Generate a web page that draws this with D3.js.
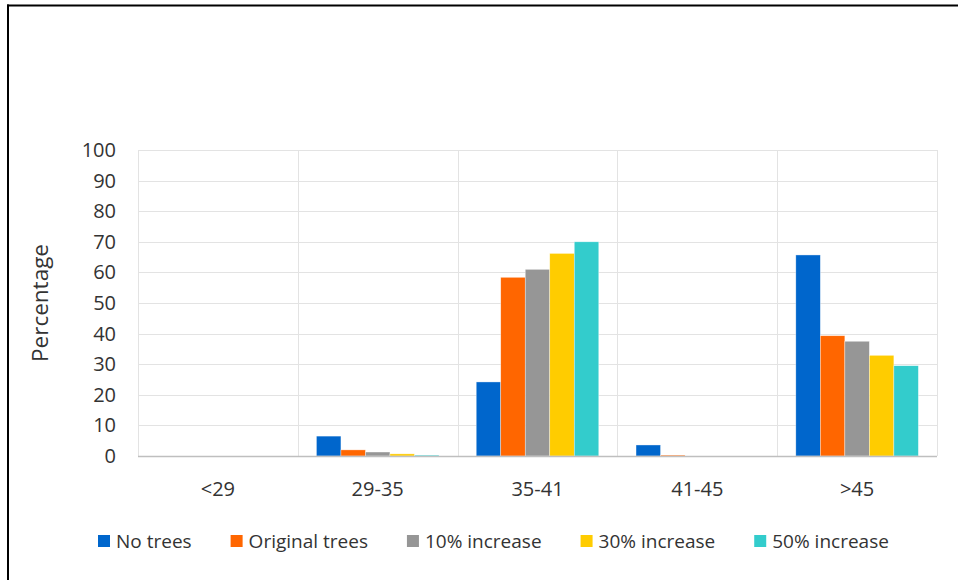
<!DOCTYPE html>
<html>
<head>
<meta charset="utf-8">
<script src="https://cdn.jsdelivr.net/npm/d3@7"></script>
<style>
  body { margin: 0; background: #fff; }
  svg { display: block; font-family: "Open Sans", sans-serif; }
</style>
</head>
<body>
<svg id="chart" width="958" height="580"></svg>
<script>
const categories = ['<29', '29-35', '35-41', '41-45', '>45'];
const seriesNames = ['No trees', 'Original trees', '10% increase', '30% increase', '50% increase'];
const colors = ['#0066CC', '#FF6600', '#969696', '#FFCC00', '#33CCCC'];
const noTrees = [0, 6.5, 24.2, 3.6, 65.7];
const originalTrees = [0, 2.0, 58.4, 0.3, 39.3];
const inc10 = [0, 1.3, 61.0, 0, 37.5];
const inc30 = [0, 0.7, 66.2, 0, 32.9];
const inc50 = [0, 0.3, 70.0, 0, 29.5];
const yTicks = [0, 10, 20, 30, 40, 50, 60, 70, 80, 90, 100];

const seriesValues = [noTrees, originalTrees, inc10, inc30, inc50];

const svg = d3.select('#chart');

// frame (top + left only, like the cropped original)
svg.append('line').attr('x1', 7).attr('x2', 958).attr('y1', 5.5).attr('y2', 5.5)
  .attr('stroke', '#000').attr('stroke-width', 2);
svg.append('line').attr('x1', 8).attr('x2', 8).attr('y1', 4.5).attr('y2', 580)
  .attr('stroke', '#000').attr('stroke-width', 2);

const margin = { left: 138, right: 937, top: 150, bottom: 456 };

const x = d3.scaleBand().domain(categories).range([margin.left, margin.right]).padding(0);
const xInner = d3.scaleBand().domain(seriesNames).range([0, x.bandwidth()])
  .paddingInner(0).paddingOuter(0.76);
const y = d3.scaleLinear().domain([0, 100]).range([margin.bottom, margin.top]);

// horizontal gridlines
svg.append('g').selectAll('line')
  .data(yTicks.filter(d => d > 0))
  .join('line')
  .attr('x1', margin.left).attr('x2', margin.right)
  .attr('y1', d => Math.round(y(d)) + 0.5).attr('y2', d => Math.round(y(d)) + 0.5)
  .attr('stroke', '#e3e3e3').attr('stroke-width', 1);

// vertical gridlines at category boundaries
const bounds = categories.map(c => x(c)).concat([margin.right]);
svg.append('g').selectAll('line')
  .data(bounds)
  .join('line')
  .attr('x1', d => Math.round(d) + 0.5).attr('x2', d => Math.round(d) + 0.5)
  .attr('y1', margin.top).attr('y2', margin.bottom)
  .attr('stroke', '#e3e3e3').attr('stroke-width', 1);

// bars
const groups = svg.append('g').selectAll('g')
  .data(categories)
  .join('g')
  .attr('transform', c => `translate(${x(c)},0)`);

groups.selectAll('rect')
  .data((c, ci) => seriesNames.map((s, si) => ({ s, si, v: seriesValues[si][ci] })))
  .join('rect')
  .attr('x', d => xInner(d.s))
  .attr('width', xInner.bandwidth())
  .attr('y', d => y(d.v))
  .attr('height', d => y(0) - y(d.v))
  .attr('fill', d => colors[d.si])
  .attr('stroke', '#fff').attr('stroke-width', 0.6).attr('stroke-opacity', 0.6);

// baseline
svg.append('line')
  .attr('x1', margin.left).attr('x2', margin.right)
  .attr('y1', margin.bottom + 0.5).attr('y2', margin.bottom + 0.5)
  .attr('stroke', '#bfbfbf').attr('stroke-width', 1.5);

// y tick labels
svg.append('g').selectAll('text')
  .data(yTicks)
  .join('text')
  .attr('x', 116)
  .attr('y', d => y(d))
  .attr('dy', '0.35em')
  .attr('text-anchor', 'end')
  .attr('font-size', 20)
  .attr('fill', '#333')
  .text(d => d);

// x category labels
svg.append('g').selectAll('text')
  .data(categories)
  .join('text')
  .attr('x', c => x(c) + x.bandwidth() / 2)
  .attr('y', 496)
  .attr('text-anchor', 'middle')
  .attr('font-size', 20)
  .attr('fill', '#333')
  .text(c => c);

// y axis title
svg.append('text')
  .attr('transform', `translate(48,${(margin.top + margin.bottom) / 2}) rotate(-90)`)
  .attr('text-anchor', 'middle')
  .attr('font-size', 22.5)
  .attr('fill', '#333')
  .text('Percentage');

// legend
const legend = svg.append('g');
let lx = 98;
seriesNames.forEach((name, i) => {
  legend.append('rect')
    .attr('x', lx).attr('y', 535)
    .attr('width', 12).attr('height', 12)
    .attr('fill', colors[i]);
  const t = legend.append('text')
    .attr('x', lx + 18).attr('y', 548)
    .attr('font-size', 19)
    .attr('fill', '#333')
    .text(name);
  lx += 18 + t.node().getComputedTextLength() + 39;
});
</script>
</body>
</html>
